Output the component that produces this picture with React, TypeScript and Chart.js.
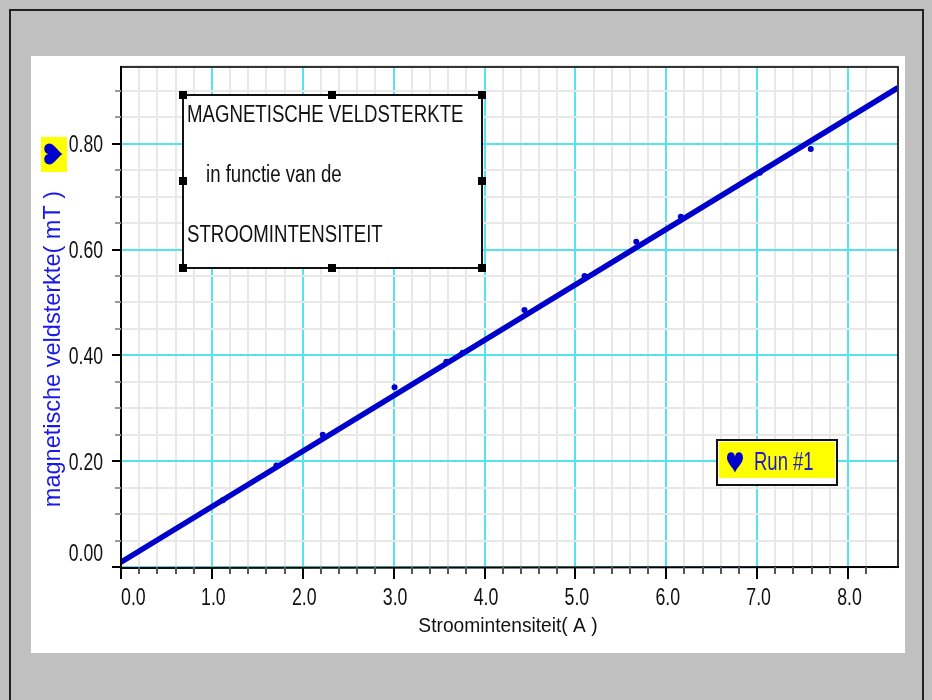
import React, { useEffect, useRef } from 'react';
import { Chart, registerables } from 'chart.js';

Chart.register(...registerables);

// ---- data ----
const runCurrent = [1.12, 1.71, 2.22, 3.01, 3.58, 3.76, 4.44, 5.10, 5.67, 6.16, 7.03, 7.59];
const runField = [0.126, 0.192, 0.250, 0.340, 0.388, 0.405, 0.486, 0.550, 0.615, 0.662, 0.745, 0.790];
const fitCurrent = [0, 8.55];
const fitField = [0.009, 0.906];

const xTickValues = [0, 1, 2, 3, 4, 5, 6, 7, 8];
const xTickLabels = ['0.0', '1.0', '2.0', '3.0', '4.0', '5.0', '6.0', '7.0', '8.0'];
const yTickValues = [0, 0.2, 0.4, 0.6, 0.8];
const yTickLabels = ['0.00', '0.20', '0.40', '0.60', '0.80'];

const xTitle = 'Stroomintensiteit( A )';
const yTitle = 'magnetische veldsterkte( mT )';
const noteLines = ['MAGNETISCHE VELDSTERKTE', 'in functie van de', 'STROOMINTENSITEIT'];
const legendLabel = 'Run #1';

const X_MIN = 0;
const X_MAX = 8.55;
const Y_MIN = 0;
const Y_MAX = 0.947;

const FONT = '"Liberation Sans", Arial, sans-serif';
const BLUE = '#0000cc';
const CYAN = '#55e4ee';
const MINOR = '#e8e8e8';

function drawText(ctx: CanvasRenderingContext2D, s: string, x: number, y: number, size: number, sx: number,
  align: CanvasTextAlign, color: string, rot = 0) {
  ctx.save();
  ctx.translate(x, y);
  if (rot) ctx.rotate(rot);
  ctx.scale(sx, 1);
  ctx.font = `${size}px ${FONT}`;
  ctx.textAlign = align;
  ctx.textBaseline = 'middle';
  ctx.fillStyle = color;
  ctx.fillText(s, 0, 0);
  ctx.restore();
}

function heart(ctx: CanvasRenderingContext2D, cx: number, cy: number, w: number, h: number, rot: number, color: string) {
  ctx.save();
  ctx.translate(cx, cy);
  ctx.rotate(rot);
  ctx.beginPath();
  ctx.moveTo(0, h * 0.5);
  ctx.bezierCurveTo(-w * 0.1, h * 0.3, -w * 0.5, h * 0.05, -w * 0.5, -h * 0.2);
  ctx.bezierCurveTo(-w * 0.5, -h * 0.52, -w * 0.05, -h * 0.55, 0, -h * 0.25);
  ctx.bezierCurveTo(w * 0.05, -h * 0.55, w * 0.5, -h * 0.52, w * 0.5, -h * 0.2);
  ctx.bezierCurveTo(w * 0.5, h * 0.05, w * 0.1, h * 0.3, 0, h * 0.5);
  ctx.closePath();
  ctx.fillStyle = color;
  ctx.fill();
  ctx.restore();
}

const near = (a: number, b: number) => Math.abs(a - b) < 1e-6;
const isMultiple = (v: number, step: number) => near(v / step, Math.round(v / step));

const decor = {
  id: 'decor',
  beforeDraw(chart: any) {
    const ctx: CanvasRenderingContext2D = chart.ctx;
    ctx.save();
    ctx.fillStyle = '#c0c0c0';
    ctx.fillRect(0, 0, chart.width, chart.height);
    ctx.strokeStyle = '#222';
    ctx.lineWidth = 2;
    ctx.strokeRect(10, 10, 913, 700);
    ctx.fillStyle = '#ffffff';
    ctx.fillRect(31, 56, 874, 597);
    ctx.restore();
  },
  afterDraw(chart: any) {
    const ctx: CanvasRenderingContext2D = chart.ctx;
    const xs = chart.scales.x;
    const ys = chart.scales.y;
    const a = chart.chartArea;
    ctx.save();

    // frame
    ctx.lineWidth = 2;
    ctx.strokeStyle = '#333';
    ctx.beginPath();
    ctx.moveTo(a.left, a.top + 1);
    ctx.lineTo(a.right, a.top + 1);
    ctx.lineTo(a.right, a.bottom);
    ctx.stroke();
    ctx.strokeStyle = '#000';
    ctx.beginPath();
    ctx.moveTo(a.left, a.top);
    ctx.lineTo(a.left, a.bottom + 1);
    ctx.lineTo(a.right + 1, a.bottom);
    ctx.stroke();

    // x tick marks
    for (const t of xs.ticks) {
      const v = t.value;
      if (v > X_MAX - 0.1) continue;
      const px = Math.round(xs.getPixelForValue(v));
      const major = isMultiple(v, 1);
      ctx.strokeStyle = major ? '#000' : '#555';
      ctx.beginPath();
      ctx.moveTo(px, a.bottom);
      ctx.lineTo(px, a.bottom + (major ? 12 : 7));
      ctx.stroke();
    }
    // y tick marks
    for (const t of ys.ticks) {
      const v = t.value;
      if (v > Y_MAX - 0.02) continue;
      const py = Math.round(ys.getPixelForValue(v));
      const major = isMultiple(v, 0.2);
      ctx.strokeStyle = major ? '#000' : '#999';
      ctx.beginPath();
      ctx.moveTo(a.left - (major ? 9 : 6), py);
      ctx.lineTo(a.left, py);
      ctx.stroke();
    }

    // tick labels
    xTickValues.forEach((v, i) => {
      const px = xs.getPixelForValue(v);
      if (i === 0) drawText(ctx, xTickLabels[i], px, 598, 24, 0.74, 'left', '#111');
      else drawText(ctx, xTickLabels[i], px + 1.5, 598, 24, 0.74, 'center', '#111');
    });
    yTickValues.forEach((v, i) => {
      let py = ys.getPixelForValue(v) + 2;
      if (i === 0) py -= 14;
      drawText(ctx, yTickLabels[i], 103, py, 23.5, 0.75, 'right', '#111');
    });

    // axis titles
    drawText(ctx, xTitle, 508, 626, 20, 0.96, 'center', '#111');
    drawText(ctx, yTitle, 53, 349, 24, 0.98, 'center', '#1a1ae6', -Math.PI / 2);

    // y-axis run marker
    ctx.fillStyle = '#ffff00';
    ctx.fillRect(41, 137, 26, 35);
    heart(ctx, 53, 154, 21, 19, -Math.PI / 2, BLUE);

    // annotation box
    ctx.fillStyle = '#ffffff';
    ctx.fillRect(183, 95, 299, 173);
    ctx.strokeStyle = '#111';
    ctx.lineWidth = 2;
    ctx.strokeRect(183, 95, 299, 173);
    ctx.fillStyle = '#000';
    const handles = [[183, 95], [332, 95], [482, 95], [183, 181], [482, 181], [183, 268], [332, 268], [482, 268]];
    for (const [hx, hy] of handles) ctx.fillRect(hx - 4, hy - 4, 8, 8);
    drawText(ctx, noteLines[0], 187, 116, 23.3, 0.8, 'left', '#111');
    drawText(ctx, noteLines[1], 206, 176, 23.3, 0.8, 'left', '#111');
    drawText(ctx, noteLines[2], 187, 236, 23.3, 0.8, 'left', '#111');

    // legend box
    ctx.fillStyle = '#ffffff';
    ctx.fillRect(717, 440, 120, 45);
    ctx.fillStyle = '#ffff00';
    ctx.fillRect(719, 442, 116, 36);
    ctx.strokeStyle = '#111';
    ctx.lineWidth = 2;
    ctx.strokeRect(717, 440, 120, 45);
    heart(ctx, 735, 462, 16, 21, 0, BLUE);
    drawText(ctx, legendLabel, 754, 463, 25, 0.74, 'left', '#1c1cc8');

    ctx.restore();
  },
};

export default function App() {
  const ref = useRef<HTMLCanvasElement | null>(null);

  useEffect(() => {
    if (!ref.current) return;
    const chart = new Chart(ref.current, {
      type: 'scatter',
      data: {
        datasets: [
          {
            label: 'fit',
            data: fitCurrent.map((x, i) => ({ x, y: fitField[i] })),
            showLine: true,
            borderColor: BLUE,
            borderWidth: 5.5,
            pointRadius: 0,
            fill: false,
            order: 2,
          },
          {
            label: legendLabel,
            data: runCurrent.map((x, i) => ({ x, y: runField[i] })),
            showLine: false,
            pointRadius: 3,
            pointStyle: 'circle',
            backgroundColor: BLUE,
            borderColor: BLUE,
            borderWidth: 0,
            order: 1,
          },
        ],
      },
      options: {
        animation: false,
        responsive: false,
        devicePixelRatio: 1,
        layout: { padding: { left: 121, top: 66, right: 34, bottom: 133 } },
        plugins: { legend: { display: false }, tooltip: { enabled: false }, title: { display: false } },
        scales: {
          x: {
            type: 'linear',
            min: X_MIN,
            max: X_MAX,
            ticks: { display: false, stepSize: 0.2 },
            border: { display: false },
            grid: {
              drawTicks: false,
              lineWidth: 2,
              color: (c: any) => (isMultiple(c.tick.value, 1) ? CYAN : MINOR),
            },
          },
          y: {
            type: 'linear',
            min: Y_MIN,
            max: Y_MAX,
            ticks: { display: false, stepSize: 0.05 },
            border: { display: false },
            grid: {
              drawTicks: false,
              lineWidth: 2,
              color: (c: any) => (isMultiple(c.tick.value, 0.2) ? CYAN : MINOR),
            },
          },
        },
      },
      plugins: [decor],
    });
    return () => chart.destroy();
  }, []);

  return (
    <div style={{ position: 'absolute', left: 0, top: 0, width: 932, height: 700 }}>
      <canvas ref={ref} width={932} height={700} style={{ width: 932, height: 700, display: 'block' }} />
    </div>
  );
}
